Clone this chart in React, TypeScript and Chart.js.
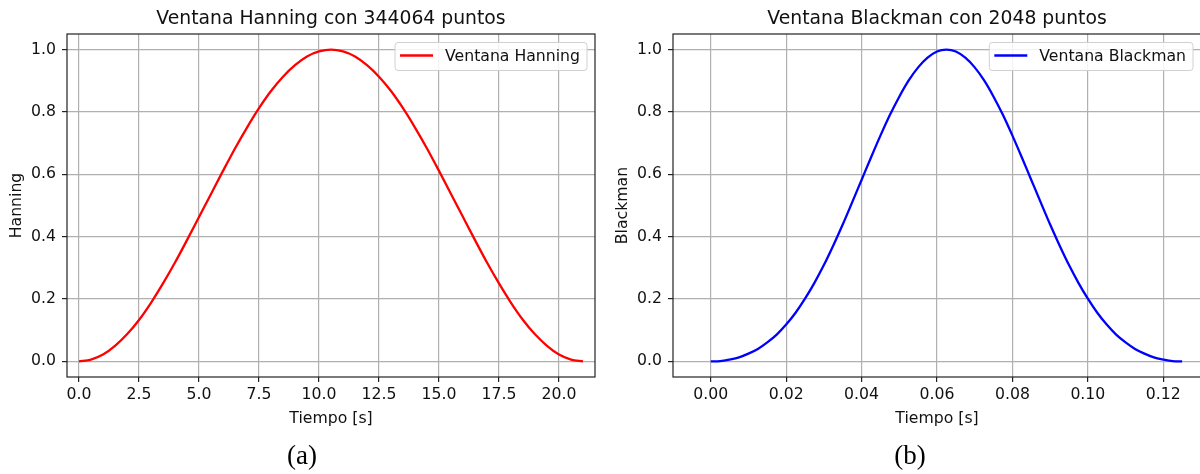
import React, { useEffect, useRef } from "react";
import { Chart, registerables } from "chart.js";

Chart.register(...registerables);

// Hanning window sampled along time (s)
const hanningTime = [
  0, 0.5, 1, 1.5, 2, 2.5, 3, 3.5, 4, 4.5, 5, 5.5, 6, 6.5, 7, 7.5, 8, 8.5, 9, 9.5, 10, 10.5,
  11, 11.5, 12, 12.5, 13, 13.5, 14, 14.5, 15, 15.5, 16, 16.5, 17, 17.5, 18, 18.5, 19, 19.5, 20, 20.5, 21,
];
const hanningValues = [
  0, 0.006, 0.022, 0.05, 0.087, 0.133, 0.188, 0.25, 0.317, 0.389, 0.463, 0.537, 0.611, 0.683, 0.75, 0.812,
  0.867, 0.913, 0.95, 0.978, 0.994, 1.0, 0.994, 0.978, 0.95, 0.913, 0.867, 0.812, 0.75, 0.683, 0.611, 0.537,
  0.463, 0.389, 0.317, 0.25, 0.188, 0.133, 0.087, 0.05, 0.022, 0.006, 0,
];

// Blackman window sampled along time (s)
const blackmanTime = [
  0, 0.0025, 0.005, 0.0075, 0.01, 0.0125, 0.015, 0.0175, 0.02, 0.0225, 0.025, 0.0275, 0.03, 0.0325, 0.035,
  0.0375, 0.04, 0.0425, 0.045, 0.0475, 0.05, 0.0525, 0.055, 0.0575, 0.06, 0.0625, 0.065, 0.0675, 0.07,
  0.0725, 0.075, 0.0775, 0.08, 0.0825, 0.085, 0.0875, 0.09, 0.0925, 0.095, 0.0975, 0.1, 0.1025, 0.105,
  0.1075, 0.11, 0.1125, 0.115, 0.1175, 0.12, 0.1225, 0.125,
];
const blackmanValues = [
  0, 0.001, 0.006, 0.013, 0.025, 0.04, 0.061, 0.086, 0.118, 0.156, 0.201, 0.252, 0.309, 0.372, 0.439, 0.51,
  0.582, 0.654, 0.724, 0.79, 0.849, 0.901, 0.943, 0.974, 0.994, 1.0, 0.994, 0.974, 0.943, 0.901, 0.849, 0.79,
  0.724, 0.654, 0.582, 0.51, 0.439, 0.372, 0.309, 0.252, 0.201, 0.156, 0.118, 0.086, 0.061, 0.04, 0.025,
  0.013, 0.006, 0.001, 0,
];

const hanningTicksX = [0, 2.5, 5, 7.5, 10, 12.5, 15, 17.5, 20];
const blackmanTicksX = [0, 0.02, 0.04, 0.06, 0.08, 0.1, 0.12];
const ticksY = [0, 0.2, 0.4, 0.6, 0.8, 1.0];

const SANS = '"DejaVu Sans", sans-serif';
const SERIF = '"Liberation Serif", "DejaVu Serif", serif';
const TEXT = "#111111";

type PanelProps = {
  title: string;
  yLabel: string;
  xLabel: string;
  legendLabel: string;
  color: string;
  times: number[];
  values: number[];
  xTicks: number[];
  xDecimals: number;
  xMin: number;
  xMax: number;
  caption: string;
  captionX: number;
  yLabelX: number;
  canvasWidth: number;
  areaLeft: number;
  areaRight: number;
};

// Draws the frame, inset legend, title, axis labels and the sub-figure caption.
const decorations = {
  id: "decorations",
  afterDraw(chart: any, _args: any, opts: any) {
    const { ctx, chartArea: a } = chart;
    ctx.save();

    // frame on all four sides
    ctx.strokeStyle = "#222222";
    ctx.lineWidth = 1.2;
    ctx.strokeRect(a.left, a.top, a.right - a.left, a.bottom - a.top);

    // legend in the upper right corner
    ctx.font = `15.7px ${SANS}`;
    const tw = ctx.measureText(opts.legendLabel).width;
    const boxRight = a.right - 8;
    const textLeft = boxRight - 7 - tw;
    const lineRight = textLeft - 12;
    const lineLeft = lineRight - 33;
    const boxLeft = lineLeft - 5;
    const boxTop = 42.5;
    const boxBottom = 70.5;
    ctx.beginPath();
    (ctx as any).roundRect(boxLeft, boxTop, boxRight - boxLeft, boxBottom - boxTop, 3);
    ctx.fillStyle = "rgba(255,255,255,0.85)";
    ctx.fill();
    ctx.strokeStyle = "#d0d0d0";
    ctx.lineWidth = 1;
    ctx.stroke();
    ctx.beginPath();
    ctx.moveTo(lineLeft, 55.5);
    ctx.lineTo(lineRight, 55.5);
    ctx.strokeStyle = opts.color;
    ctx.lineWidth = 2.3;
    ctx.stroke();
    ctx.fillStyle = TEXT;
    ctx.textAlign = "left";
    ctx.textBaseline = "alphabetic";
    ctx.fillText(opts.legendLabel, textLeft, 61);

    const cx = (a.left + a.right) / 2;

    // title
    ctx.textAlign = "center";
    ctx.font = `18.8px ${SANS}`;
    ctx.fillText(opts.title, cx, 24);

    // x axis label
    ctx.font = `15.7px ${SANS}`;
    ctx.fillText(opts.xLabel, cx, 423);

    // y axis label
    ctx.save();
    ctx.translate(opts.yLabelX, (a.top + a.bottom) / 2);
    ctx.rotate(-Math.PI / 2);
    ctx.textBaseline = "middle";
    ctx.fillText(opts.yLabel, 0, 0);
    ctx.restore();

    // caption
    ctx.font = `27px ${SERIF}`;
    ctx.fillStyle = "#000000";
    ctx.fillText(opts.caption, opts.captionX, 464);

    ctx.restore();
  },
};

function WindowPanel(p: PanelProps) {
  const ref = useRef<HTMLCanvasElement | null>(null);

  useEffect(() => {
    if (!ref.current) return;
    const points = p.times.map((t, i) => ({ x: t, y: p.values[i] }));
    const chart = new Chart(ref.current, {
      type: "line",
      data: {
        datasets: [
          {
            label: p.legendLabel,
            data: points,
            borderColor: p.color,
            backgroundColor: p.color,
            borderWidth: 2.3,
            pointRadius: 0,
            cubicInterpolationMode: "monotone",
            fill: false,
          },
        ],
      },
      options: {
        animation: false,
        responsive: false,
        devicePixelRatio: 1,
        layout: {
          padding: { left: 0, top: 34, right: p.canvasWidth - p.areaRight, bottom: 0 },
        },
        plugins: {
          legend: { display: false },
          title: { display: false },
          tooltip: { enabled: false },
          decorations: {
            title: p.title,
            xLabel: p.xLabel,
            yLabel: p.yLabel,
            legendLabel: p.legendLabel,
            color: p.color,
            caption: p.caption,
            captionX: p.captionX,
            yLabelX: p.yLabelX,
          },
        } as any,
        scales: {
          x: {
            type: "linear",
            min: p.xMin,
            max: p.xMax,
            afterFit: (scale: any) => {
              scale.height = 474 - 377;
            },
            afterBuildTicks: (scale: any) => {
              scale.ticks = p.xTicks.map((v) => ({ value: v }));
            },
            border: { display: false },
            grid: {
              color: "#b0b0b0",
              lineWidth: 1.2,
              tickColor: "#222222",
              tickLength: 5,
              tickWidth: 1.2,
            },
            ticks: {
              autoSkip: false,
              maxRotation: 0,
              minRotation: 0,
              padding: 4,
              color: TEXT,
              font: { family: SANS, size: 15.7 },
              callback: (v: any) => Number(v).toFixed(p.xDecimals),
            },
          },
          y: {
            type: "linear",
            min: -0.05,
            max: 1.05,
            afterFit: (scale: any) => {
              scale.width = p.areaLeft;
            },
            afterBuildTicks: (scale: any) => {
              scale.ticks = ticksY.map((v) => ({ value: v }));
            },
            border: { display: false },
            grid: {
              color: "#b0b0b0",
              lineWidth: 1.2,
              tickColor: "#222222",
              tickLength: 5,
              tickWidth: 1.2,
            },
            ticks: {
              autoSkip: false,
              padding: 6,
              color: TEXT,
              font: { family: SANS, size: 15.7 },
              callback: (v: any) => Number(v).toFixed(1),
            },
          },
        },
      },
      plugins: [decorations],
    });
    return () => chart.destroy();
  }, []);

  return <canvas ref={ref} width={p.canvasWidth} height={474} style={{ display: "block" }} />;
}

export default function App() {
  return (
    <div style={{ position: "absolute", left: 0, top: 0, width: 1200, height: 474, background: "#fff", overflow: "hidden" }}>
      <div style={{ position: "absolute", left: 0, top: 0, width: 600, height: 474, overflow: "hidden" }}>
        <WindowPanel
          title="Ventana Hanning con 344064 puntos"
          yLabel="Hanning"
          xLabel="Tiempo [s]"
          legendLabel="Ventana Hanning"
          color="#ff0000"
          times={hanningTime}
          values={hanningValues}
          xTicks={hanningTicksX}
          xDecimals={1}
          xMin={-0.5}
          xMax={21.5}
          caption="(a)"
          captionX={302}
          yLabelX={17}
          canvasWidth={600}
          areaLeft={67}
          areaRight={595}
        />
      </div>
      <div style={{ position: "absolute", left: 600, top: 0, width: 600, height: 474, overflow: "hidden" }}>
        <WindowPanel
          title="Ventana Blackman con 2048 puntos"
          yLabel="Blackman"
          xLabel="Tiempo [s]"
          legendLabel="Ventana Blackman"
          color="#0000ff"
          times={blackmanTime}
          values={blackmanValues}
          xTicks={blackmanTicksX}
          xDecimals={2}
          xMin={-0.01}
          xMax={0.13}
          caption="(b)"
          captionX={310}
          yLabelX={23}
          canvasWidth={610}
          areaLeft={73}
          areaRight={601}
        />
      </div>
    </div>
  );
}
